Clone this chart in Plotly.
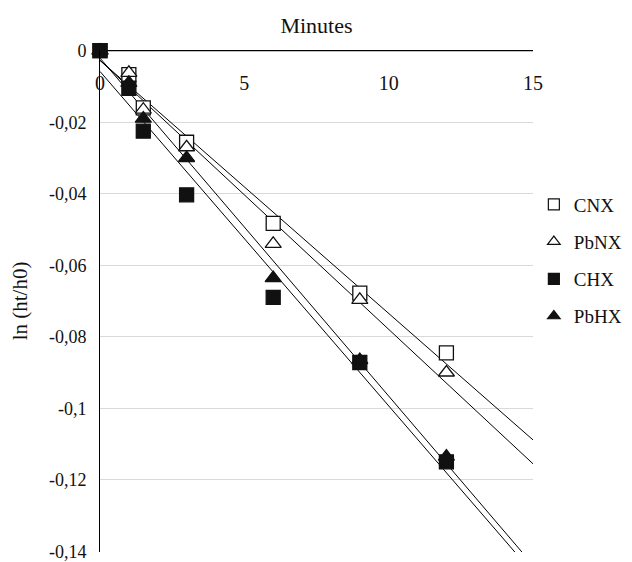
import numpy as np
import plotly.graph_objects as go

minutes = [0, 1, 1.5, 3, 6, 9, 12]
cnx = [0, -0.0067, -0.016, -0.0256, -0.0483, -0.0678, -0.0845]
pbnx = [0, -0.0062, -0.0165, -0.027, -0.054, -0.0697, -0.090]
chx = [0, -0.0105, -0.0225, -0.0403, -0.069, -0.0872, -0.115]
pbhx = [0, -0.009, -0.019, -0.030, -0.0636, -0.0865, -0.1135]

y_tickvals = [0, -0.02, -0.04, -0.06, -0.08, -0.1, -0.12, -0.14]
y_ticktext = ["0", "-0,02", "-0,04", "-0,06", "-0,08", "-0,1", "-0,12", "-0,14"]
x_tickvals = [0, 5, 10, 15]

series = [
    ("CNX", cnx, "square", "white"),
    ("PbNX", pbnx, "triangle-up", "white"),
    ("CHX", chx, "square", "#111111"),
    ("PbHX", pbhx, "triangle-up", "#111111"),
]

FONT = "Liberation Serif, Times New Roman, serif"
fig = go.Figure()

# trend lines (least squares), extended to x = 15
x_line = np.array([0, 15])
for name, vals, sym, fill in series:
    slope, icpt = np.polyfit(minutes, vals, 1)
    fig.add_trace(go.Scatter(x=x_line, y=slope * x_line + icpt, mode="lines",
                             line=dict(color="black", width=1), showlegend=False,
                             hoverinfo="skip"))

for name, vals, sym, fill in series:
    fig.add_trace(go.Scatter(x=minutes, y=vals, mode="markers", name=name,
                             showlegend=False,
                             marker=dict(symbol=sym, size=14, color=fill,
                                         line=dict(color="#111111", width=1.3)),
                             cliponaxis=False))

# legend entries (smaller symbols, as in the reference legend)
for name, vals, sym, fill in series:
    fig.add_trace(go.Scatter(x=[None], y=[None], mode="markers", name=name,
                             legendgroup=name, xaxis="x2",
                             marker=dict(symbol=sym, size=11, color=fill,
                                         line=dict(color="#111111", width=1.2))))

fig.update_layout(
    width=632, height=554,
    margin=dict(l=92, r=107, t=42, b=10, autoexpand=False),
    paper_bgcolor="white", plot_bgcolor="white",
    font=dict(family=FONT, size=18, color="#111111"),
    showlegend=True,
    legend=dict(x=1.002, xanchor="left", y=0.730, yanchor="top",
                font=dict(family=FONT, size=19, color="#111111"),
                tracegroupgap=9.5, itemwidth=30, bgcolor="rgba(0,0,0,0)"),
    xaxis=dict(range=[0, 15], side="top", tickvals=x_tickvals,
               showgrid=False, zeroline=False, automargin=False,
               showline=False, ticks="", ticklen=0, ticklabelstandoff=-45,
               tickfont=dict(family=FONT, size=20)),
    xaxis2=dict(range=[0, 15], matches="x", overlaying="x", side="top", anchor="y",
                showticklabels=False, showgrid=False, zeroline=False, showline=False,
                ticks="", ticklen=0, automargin=False,
                title=dict(text="Minutes", font=dict(family=FONT, size=22), standoff=9)),
    yaxis=dict(range=[-0.1402, 0.0002], tickvals=y_tickvals, ticktext=y_ticktext,
               showgrid=True, gridcolor="#d9d9d9", gridwidth=1, zeroline=False,
               showline=True, linecolor="black", linewidth=1, ticks="",
               automargin=False, ticklabelstandoff=9,
               title=dict(text="ln (ht/h0)", font=dict(family=FONT, size=21), standoff=18),
               tickfont=dict(family=FONT, size=18)),
    shapes=[dict(type="line", xref="x", yref="y", x0=0, x1=15, y0=0, y1=0,
                 line=dict(color="black", width=1.2), layer="below")],
)

fig.write_html("out.html")
